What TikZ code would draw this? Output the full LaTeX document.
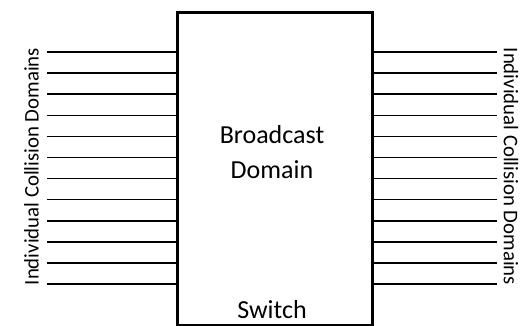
\documentclass[tikz,border=0pt]{standalone}
\usepackage{fontspec}
\setmainfont{Carlito}
\usetikzlibrary{positioning}

\begin{document}
\begin{tikzpicture}[x=1pt, y=-1pt]
\tikzset{
  port/.style={line width=1.5pt},
  switchbox/.style={draw, line width=2.7pt, inner sep=0pt, anchor=north west},
  sidelabel/.style={font=\fontsize{20.8}{24}\selectfont, inner sep=0pt},
  boxlabel/.style={font=\fontsize{26}{35}\selectfont, align=center, inner sep=0pt}
}
\useasboundingbox (0,0) rectangle (532,326);

% Switch box
\node[switchbox, minimum width=195pt, minimum height=313pt] (switch) at (176,11) {};

% Texts in the box
\node[boxlabel] (bcast) at (272,152) {Broadcast\\Domain};
\node[boxlabel, anchor=base] (swlabel) at (272,318) {Switch};

% Ports on both sides
\foreach \i in {0,...,11} {
  \coordinate (lp\i) at (47,52+21.1*\i);
  \coordinate (rp\i) at (497,52+21.1*\i);
  \draw[port] (lp\i) -- (lp\i -| switch.west);
  \draw[port] (rp\i -| switch.east) -- (rp\i);
}

% Side labels
\node[sidelabel, rotate=90] (leftlabel) at (31.5,166.5) {Individual Collision Domains};
\node[sidelabel, rotate=-90] (rightlabel) at (511,166.5) {Individual Collision Domains};

\end{tikzpicture}
\end{document}
